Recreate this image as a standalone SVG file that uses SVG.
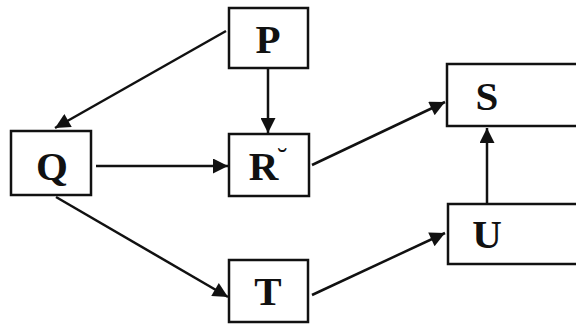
<svg xmlns="http://www.w3.org/2000/svg" width="576" height="324" viewBox="0 0 576 324">
<style>
.box{fill:#fff;stroke:#111;stroke-width:2.5}
.lbl{font-family:"Liberation Serif","Times New Roman",serif;font-weight:bold;font-size:41px;fill:#111;text-anchor:middle}
.con{stroke:#111;stroke-width:2.5;fill:none;marker-end:url(#ah)}
</style>
<defs>
<marker id="ah" viewBox="0 0 10 10" refX="10" refY="5" markerWidth="7.5" markerHeight="6" orient="auto" markerUnits="strokeWidth">
<path d="M0,0 L10,5 L0,10 z" fill="#111"/>
</marker>
</defs>
<rect width="576" height="324" fill="#fff"/>
<g id="connectors">
<line class="con" x1="226" y1="31" x2="55" y2="128"/>
<line class="con" x1="268" y1="68" x2="268" y2="133"/>
<line class="con" x1="96" y1="166" x2="228" y2="166"/>
<line class="con" x1="312" y1="165" x2="445" y2="102"/>
<line class="con" x1="487" y1="203" x2="487" y2="128"/>
<line class="con" x1="56" y1="197" x2="228" y2="297"/>
<line class="con" x1="312" y1="295" x2="445" y2="233"/>
</g>
<g id="P"><rect class="box" x="229" y="8" width="79" height="60"/><text class="lbl" x="268" y="53">P</text></g>
<g id="Q"><rect class="box" x="11" y="131" width="80" height="64"/><text class="lbl" x="52" y="180">Q</text></g>
<g id="R"><rect class="box" x="229" y="134" width="80" height="62"/><text class="lbl" x="268" y="180">R<tspan font-size="30" dx="-1" dy="-12" font-weight="normal">˘</tspan></text></g>
<g id="S"><rect class="box" x="447" y="64" width="140" height="62"/><text class="lbl" x="487" y="110">S</text></g>
<g id="U"><rect class="box" x="448" y="204" width="140" height="60"/><text class="lbl" x="487" y="248">U</text></g>
<g id="T"><rect class="box" x="229" y="260" width="79" height="62"/><text class="lbl" x="268" y="305">T</text></g>
</svg>
